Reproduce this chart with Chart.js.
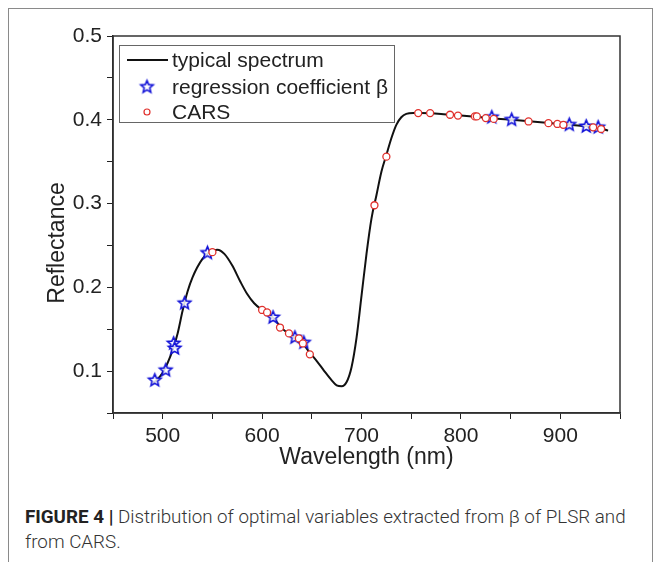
<!DOCTYPE html>
<html>
<head>
<meta charset="utf-8">
<script src="https://cdn.jsdelivr.net/npm/chart.js@4.4.1/dist/chart.umd.min.js"></script>
<style>
  html, body { margin: 0; padding: 0; background: #fff; }
  body { width: 657px; height: 562px; position: relative; overflow: hidden; }
  #frame { position: absolute; left: 8px; top: 8px; width: 643px; height: 600px;
           border: 1px solid #8a8a8a; border-bottom: none; }
  #chart { position: absolute; left: 0; top: 0; }
  #caption { position: absolute; left: 25px; top: 505px; width: 625px;
             font-family: Roboto, "Liberation Sans", sans-serif; font-weight: 300;
             font-size: 18.8px; line-height: 25px; color: #333; white-space: nowrap; }
  #caption b { font-weight: 700; color: #222; }
</style>
</head>
<body>
<div id="frame"></div>
<canvas id="chart" width="657" height="475"></canvas>
<div id="caption"><b>FIGURE 4 |</b> Distribution of optimal variables extracted from β of PLSR and<br>from CARS.</div>
<script>
// typical spectrum (wavelength nm / reflectance)
const specWl = [490, 500, 510, 515, 520, 525, 530, 540, 548, 555, 562, 570, 578, 585, 592, 600, 610, 620, 630, 640, 648, 655, 662, 670, 675, 680, 685, 690, 695, 700, 705, 710, 715, 720, 725, 730, 735, 740, 745, 752, 760, 780, 800, 820, 840, 860, 880, 900, 920, 940, 948];
const specR = [0.085, 0.098, 0.125, 0.145, 0.172, 0.195, 0.212, 0.234, 0.243, 0.245, 0.240, 0.226, 0.207, 0.192, 0.181, 0.173, 0.165, 0.151, 0.142, 0.134, 0.122, 0.112, 0.101, 0.089, 0.083, 0.082, 0.087, 0.105, 0.140, 0.190, 0.240, 0.282, 0.310, 0.338, 0.358, 0.378, 0.394, 0.403, 0.407, 0.408, 0.408, 0.407, 0.405, 0.403, 0.401, 0.399, 0.397, 0.395, 0.393, 0.390, 0.387];

// regression coefficient beta
const betaWl = [492, 503, 511, 512, 522, 545, 611, 633, 642, 831, 851, 909, 926, 938];
const betaR = [0.089, 0.101, 0.133, 0.127, 0.181, 0.241, 0.164, 0.140, 0.134, 0.403, 0.400, 0.394, 0.392, 0.391];

// CARS
const carsWl = [550, 600, 605, 618, 627, 637, 641, 648, 713, 725, 757, 769, 789, 797, 814, 816, 825, 833, 868, 888, 897, 903, 933, 941];
const carsR = [0.242, 0.173, 0.170, 0.152, 0.145, 0.139, 0.133, 0.120, 0.298, 0.356, 0.408, 0.408, 0.406, 0.405, 0.404, 0.404, 0.402, 0.401, 0.398, 0.396, 0.395, 0.394, 0.391, 0.389];

const legendLabels = ['typical spectrum', 'regression coefficient β', 'CARS'];

const toXY = (xs, ys) => xs.map((x, i) => ({ x: x, y: ys[i] }));

function makeStar(r, color, lw) {
    const c = document.createElement('canvas');
    const s = Math.ceil(2 * r + 2 * lw + 2);
    c.width = c.height = s;
    const g = c.getContext('2d');
    g.beginPath();
    for (let i = 0; i < 10; i++) {
        const rr = i % 2 ? r * 0.45 : r;
        const a = -Math.PI / 2 + i * Math.PI / 5;
        g.lineTo(s / 2 + rr * Math.cos(a), s / 2 + rr * Math.sin(a));
    }
    g.closePath();
    g.fillStyle = 'rgba(255,255,255,0.85)';
    g.fill();
    g.lineWidth = lw;
    g.strokeStyle = color;
    g.stroke();
    return c;
}

const starImg = makeStar(6.5, '#1414d8', 1.6);
const FONT = '"Liberation Sans", Arial, sans-serif';

// plot frame, y title and boxed legend
const decor = {
    id: 'decor',
    afterDraw(chart) {
        const ctx = chart.ctx;
        const a = chart.chartArea;
        ctx.save();
        ctx.strokeStyle = '#333';
        ctx.lineWidth = 1.5;
        ctx.strokeRect(a.left, a.top, a.right - a.left, a.bottom - a.top);

        ctx.fillStyle = '#222';
        ctx.font = '23px ' + FONT;
        ctx.textAlign = 'center';
        ctx.textBaseline = 'middle';
        ctx.translate(58, 243);
        ctx.rotate(-Math.PI / 2);
        ctx.fillText('Reflectance', 0, 0);
        ctx.restore();

        ctx.save();
        ctx.fillStyle = '#fff';
        ctx.fillRect(119.5, 45.5, 275, 77);
        ctx.strokeStyle = '#666';
        ctx.lineWidth = 1;
        ctx.strokeRect(119.5, 45.5, 275, 77);
        const rows = [60, 87, 112];
        ctx.strokeStyle = '#111';
        ctx.lineWidth = 2;
        ctx.beginPath();
        ctx.moveTo(127, rows[0]);
        ctx.lineTo(168, rows[0]);
        ctx.stroke();
        ctx.drawImage(starImg, 147 - starImg.width / 2, rows[1] - starImg.height / 2);
        ctx.beginPath();
        ctx.arc(147, rows[2], 3, 0, Math.PI * 2);
        ctx.strokeStyle = '#e0302c';
        ctx.lineWidth = 1.2;
        ctx.stroke();
        ctx.fillStyle = '#222';
        ctx.font = '21px ' + FONT;
        ctx.textAlign = 'left';
        ctx.textBaseline = 'middle';
        legendLabels.forEach((t, i) => ctx.fillText(t, 172, rows[i] + 1));
        ctx.restore();
    }
};

Chart.defaults.font.family = FONT;
Chart.defaults.color = '#222';

new Chart(document.getElementById('chart').getContext('2d'), {
    type: 'scatter',
    data: {
        datasets: [
            {
                label: legendLabels[0],
                data: toXY(specWl, specR),
                showLine: true,
                borderColor: '#111',
                borderWidth: 2,
                pointRadius: 0,
                cubicInterpolationMode: 'monotone',
                order: 3
            },
            {
                label: legendLabels[1],
                data: toXY(betaWl, betaR),
                pointStyle: starImg,
                order: 2
            },
            {
                label: legendLabels[2],
                data: toXY(carsWl, carsR),
                pointStyle: 'circle',
                pointRadius: 3.5,
                borderColor: '#e0302c',
                backgroundColor: '#fff',
                borderWidth: 1.3,
                order: 1
            }
        ]
    },
    options: {
        responsive: false,
        animation: false,
        devicePixelRatio: 1,
        layout: { padding: { left: 0, top: 36, right: 37, bottom: 0 } },
        plugins: {
            legend: { display: false },
            tooltip: { enabled: false }
        },
        scales: {
            x: {
                type: 'linear',
                min: 450,
                max: 960,
                afterFit: function (scale) { scale.height = 62; },
                ticks: {
                    stepSize: 50,
                    padding: 5,
                    maxRotation: 0,
                    autoSkip: false,
                    font: { size: 21 },
                    callback: function (v) { return v % 100 === 0 ? v : ''; }
                },
                grid: { drawOnChartArea: false, tickLength: 6, color: '#222' },
                border: { color: '#222', width: 1.5 },
                title: { display: true, text: 'Wavelength (nm)', font: { size: 23 }, padding: 4 }
            },
            y: {
                min: 0.05,
                max: 0.5,
                afterFit: function (scale) { scale.width = 113; },
                ticks: {
                    stepSize: 0.05,
                    padding: 5,
                    autoSkip: false,
                    font: { size: 21 },
                    callback: function (v) {
                        const k = Math.round(v * 100);
                        return k % 10 === 0 ? (k / 100).toFixed(1) : '';
                    }
                },
                grid: { drawOnChartArea: false, tickLength: 6, color: '#222' },
                border: { color: '#222', width: 1.5 }
            }
        }
    },
    plugins: [decor]
});
</script>
</body>
</html>
